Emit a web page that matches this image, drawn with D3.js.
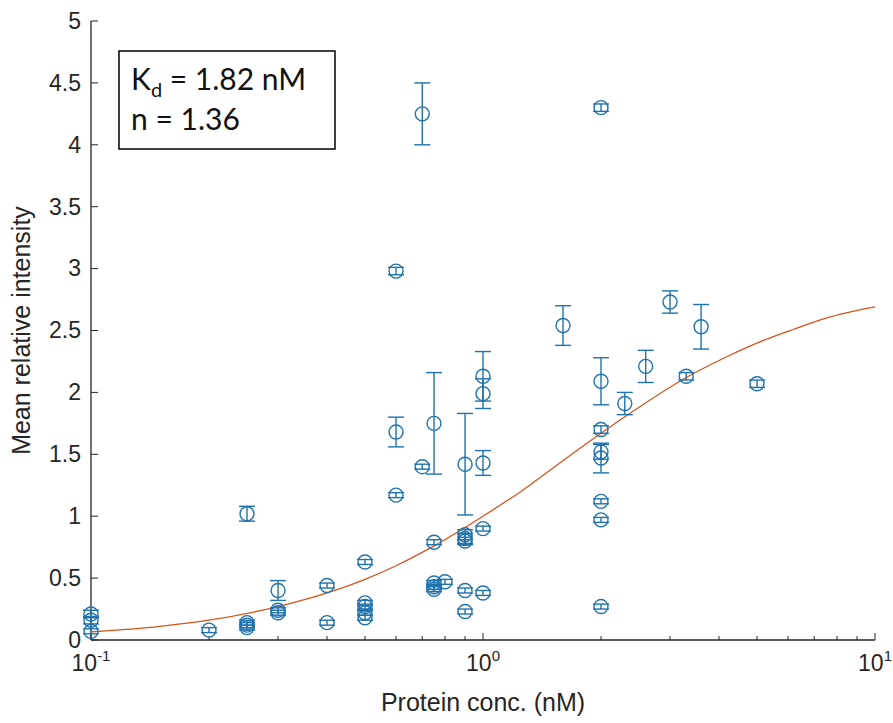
<!DOCTYPE html>
<html>
<head>
<meta charset="utf-8">
<script src="https://d3js.org/d3.v7.min.js"></script>
<style>
  body { margin: 0; background: #fff; }
  svg text { font-family: "Liberation Sans", Arial, sans-serif; }
</style>
</head>
<body>
<div id="chart"></div>
<script>
// measured points: concentration (nM), mean relative intensity, error (+/-)
const conc = [0.1, 0.1, 0.1, 0.2, 0.25, 0.25, 0.25, 0.25, 0.3, 0.3, 0.3, 0.4, 0.4,
  0.5, 0.5, 0.5, 0.5, 0.5, 0.6, 0.6, 0.6, 0.7, 0.7, 0.75, 0.75, 0.75, 0.75, 0.75,
  0.8, 0.9, 0.9, 0.9, 0.9, 0.9, 0.9, 1.0, 1.0, 1.0, 1.0, 1.0, 1.6,
  2.0, 2.0, 2.0, 2.0, 2.0, 2.0, 2.0, 2.0, 2.3, 2.6, 3.0, 3.3, 3.6, 5.0];
const meanInt = [0.21, 0.16, 0.07, 0.08, 1.02, 0.14, 0.12, 0.10, 0.40, 0.24, 0.22, 0.44, 0.14,
  0.63, 0.30, 0.27, 0.22, 0.18, 2.98, 1.68, 1.17, 4.25, 1.40, 1.75, 0.79, 0.46, 0.43, 0.41,
  0.47, 1.42, 0.85, 0.82, 0.80, 0.40, 0.23, 2.13, 1.99, 1.43, 0.90, 0.38, 2.54,
  4.30, 2.09, 1.70, 1.52, 1.47, 1.12, 0.97, 0.27, 1.91, 2.21, 2.73, 2.13, 2.53, 2.07];
const errBar = [0.03, 0.03, 0.02, 0.02, 0.06, 0.02, 0.02, 0.02, 0.08, 0.02, 0.02, 0.02, 0.02,
  0.02, 0.02, 0.02, 0.02, 0.02, 0.03, 0.12, 0.02, 0.25, 0.02, 0.41, 0.02, 0.02, 0.02, 0.02,
  0.02, 0.41, 0.04, 0.04, 0.03, 0.02, 0.02, 0.20, 0.12, 0.10, 0.02, 0.02, 0.16,
  0.03, 0.19, 0.03, 0.06, 0.12, 0.02, 0.02, 0.02, 0.09, 0.13, 0.09, 0.03, 0.18, 0.03];

// fitted curve
const fitX = [0.1, 0.15, 0.2, 0.3, 0.4, 0.5, 0.6, 0.75, 1, 1.25, 1.57, 2, 2.5, 3.3, 4.2, 5.1, 6.2, 7.5, 10];
const fitY = [0.065, 0.11, 0.16, 0.27, 0.38, 0.49, 0.60, 0.76, 1.00, 1.20, 1.43, 1.67, 1.88, 2.12, 2.29, 2.41, 2.51, 2.60, 2.69];

const yTicks = [0, 0.5, 1, 1.5, 2, 2.5, 3, 3.5, 4, 4.5, 5];
const xTicks = [0.1, 1, 10];
const xTickExp = ["-1", "0", "1"];

const width = 893, height = 723;
const margin = { top: 21, right: 18, bottom: 83, left: 91 };
const innerW = width - margin.left - margin.right;
const innerH = height - margin.top - margin.bottom;

const blue = "#1f72ad", orange = "#d95319", axisCol = "#262626";

const svg = d3.select("#chart").append("svg")
  .attr("width", width)
  .attr("height", height);

const g = svg.append("g")
  .attr("transform", `translate(${margin.left},${margin.top})`);

const x = d3.scaleLog().domain([0.1, 10]).range([0, innerW]);
const y = d3.scaleLinear().domain([0, 5]).range([innerH, 0]);

// axes (MATLAB style, ticks pointing inward, no box)
const minorTicks = [];
[0.1, 1].forEach(dec => { for (let k = 2; k <= 9; k++) minorTicks.push(dec * k); });

const xAxisG = g.append("g").attr("transform", `translate(0,${innerH})`);
xAxisG.append("line").attr("x1", 0).attr("x2", innerW).attr("stroke", axisCol).attr("stroke-width", 1.3);
xAxisG.selectAll("line.minor").data(minorTicks).enter().append("line")
  .attr("class", "minor")
  .attr("x1", d => x(d)).attr("x2", d => x(d))
  .attr("y1", 0).attr("y2", -4)
  .attr("stroke", axisCol).attr("stroke-width", 1);
xAxisG.selectAll("line.major").data(xTicks).enter().append("line")
  .attr("class", "major")
  .attr("x1", d => x(d)).attr("x2", d => x(d))
  .attr("y1", 0).attr("y2", -7)
  .attr("stroke", axisCol).attr("stroke-width", 1);

const xLab = xAxisG.selectAll("text.tick").data(xTicks).enter().append("text")
  .attr("class", "tick")
  .attr("x", d => x(d))
  .attr("y", 31)
  .attr("text-anchor", "middle")
  .attr("fill", axisCol)
  .style("font-size", "23px");
xLab.append("tspan").text("10");
xLab.append("tspan")
  .attr("dy", -10)
  .style("font-size", "15px")
  .text((d, i) => xTickExp[i]);

const yAxisG = g.append("g");
yAxisG.append("line").attr("y1", 0).attr("y2", innerH).attr("stroke", axisCol).attr("stroke-width", 1.3);
yAxisG.selectAll("line.tick").data(yTicks).enter().append("line")
  .attr("class", "tick")
  .attr("x1", 0).attr("x2", 7)
  .attr("y1", d => y(d)).attr("y2", d => y(d))
  .attr("stroke", axisCol).attr("stroke-width", 1);
yAxisG.selectAll("text.tick").data(yTicks).enter().append("text")
  .attr("class", "tick")
  .attr("x", -10)
  .attr("y", d => y(d))
  .attr("dy", "0.34em")
  .attr("text-anchor", "end")
  .attr("fill", axisCol)
  .style("font-size", "23px")
  .text(d => d);

// axis titles
g.append("text")
  .attr("x", innerW / 2)
  .attr("y", innerH + 71)
  .attr("text-anchor", "middle")
  .attr("fill", axisCol)
  .style("font-size", "25px")
  .text("Protein conc. (nM)");

g.append("text")
  .attr("transform", "rotate(-90)")
  .attr("x", -innerH / 2)
  .attr("y", -61)
  .attr("text-anchor", "middle")
  .attr("fill", axisCol)
  .style("font-size", "25px")
  .text("Mean relative intensity");

// fitted curve
const fitData = fitX.map((d, i) => ({ x: d, y: fitY[i] }));
g.append("path")
  .datum(fitData)
  .attr("fill", "none")
  .attr("stroke", orange)
  .attr("stroke-width", 1.3)
  .attr("d", d3.line().x(d => x(d.x)).y(d => y(d.y)).curve(d3.curveMonotoneX));

// error bars + markers
const pts = conc.map((c, i) => ({ c: c, v: meanInt[i], e: errBar[i] }));
const capW = 8;
const eb = g.selectAll("g.eb").data(pts).enter().append("g").attr("class", "eb")
  .attr("stroke", blue).attr("stroke-width", 1.4).attr("fill", "none");
eb.append("line")
  .attr("x1", d => x(d.c)).attr("x2", d => x(d.c))
  .attr("y1", d => y(d.v - d.e)).attr("y2", d => y(d.v + d.e));
eb.append("line")
  .attr("x1", d => x(d.c) - capW).attr("x2", d => x(d.c) + capW)
  .attr("y1", d => y(d.v + d.e)).attr("y2", d => y(d.v + d.e));
eb.append("line")
  .attr("x1", d => x(d.c) - capW).attr("x2", d => x(d.c) + capW)
  .attr("y1", d => y(d.v - d.e)).attr("y2", d => y(d.v - d.e));
eb.append("circle")
  .attr("cx", d => x(d.c))
  .attr("cy", d => y(d.v))
  .attr("r", 7);

// annotation box
const box = svg.append("g").attr("transform", "translate(119,51)");
box.append("rect")
  .attr("width", 216).attr("height", 98)
  .attr("fill", "#fff").attr("stroke", "#000").attr("stroke-width", 1.5);
const t1 = box.append("text")
  .attr("x", 12).attr("y", 39)
  .attr("fill", "#111")
  .style("font-family", "Lato, 'Open Sans', sans-serif")
  .style("font-size", "30px");
t1.append("tspan").text("K");
t1.append("tspan").attr("dy", 7).style("font-size", "20px").text("d");
t1.append("tspan").attr("dy", -7).text(" = 1.82 nM");
box.append("text")
  .attr("x", 12).attr("y", 79)
  .attr("fill", "#111")
  .style("font-family", "Lato, 'Open Sans', sans-serif")
  .style("font-size", "30px")
  .text("n = 1.36");
</script>
</body>
</html>
